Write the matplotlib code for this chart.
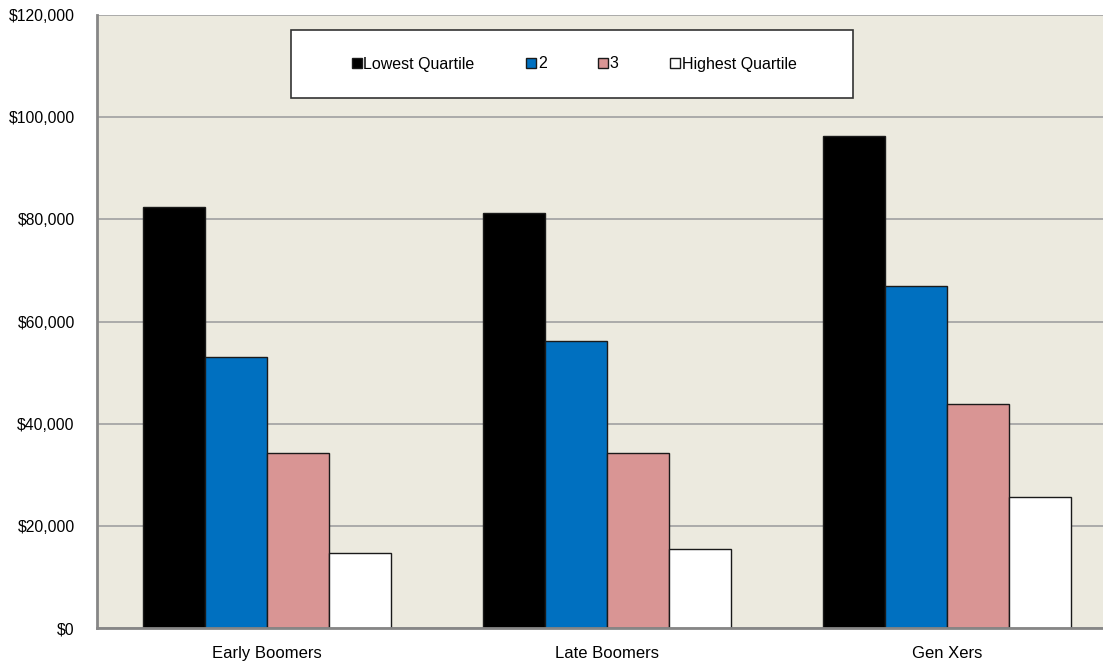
import matplotlib.pyplot as plt
import numpy as np
from matplotlib.patches import Rectangle
from matplotlib.ticker import FuncFormatter

categories = ["Early Boomers", "Late Boomers", "Gen Xers"]
series_names = ["Lowest Quartile", "2", "3", "Highest Quartile"]
lowest = [82400, 81300, 96400]
second = [53000, 56100, 67000]
third = [34300, 34300, 43800]
highest = [14700, 15400, 25700]

colors = ["#000000", "#0070C0", "#D99594", "#FFFFFF"]


def money(v, pos):
    return "${:,.0f}".format(v)


def main():
    plt.rcParams["font.family"] = ["Liberation Sans", "DejaVu Sans"]
    fig = plt.figure(figsize=(11.03, 6.62), dpi=100)
    ax = fig.add_axes([97 / 1103, 34 / 662, 1006 / 1103, 613 / 662])
    ax.set_facecolor("#ECEADF")

    x = np.arange(len(categories))
    width = 62 / 340
    values = [lowest, second, third, highest]
    for i, (name, vals) in enumerate(zip(series_names, values)):
        offset = (i - 1.5) * width
        ax.bar(x + offset, vals, width, color=colors[i], label=name,
               edgecolor="#1a1a1a", linewidth=1.0, zorder=3)

    ax.set_ylim(0, 120000)
    ax.set_xlim(-0.5, 2 + (1103 - 947) / 340)
    ax.set_yticks(np.arange(0, 120001, 20000))
    ax.yaxis.set_major_formatter(FuncFormatter(money))
    ax.set_xticks(x)
    ax.set_xticklabels(categories)
    ax.tick_params(axis="both", length=0, colors="black")
    ax.tick_params(axis="y", pad=16, labelsize=11.3)
    ax.tick_params(axis="x", pad=13, labelsize=12)
    ax.yaxis.grid(True, color="#A6A6A6", linewidth=1.3, zorder=0)
    ax.set_axisbelow(True)

    for side in ["top", "right"]:
        ax.spines[side].set_visible(False)
    for side in ["left", "bottom"]:
        ax.spines[side].set_color("#868686")
        ax.spines[side].set_linewidth(2)
        ax.spines[side].set_zorder(4)

    # legend box
    box = Rectangle((291 / 1103, 1 - 98 / 662), (853 - 291) / 1103, 68 / 662,
                    transform=fig.transFigure, facecolor="white",
                    edgecolor="#333333", linewidth=1.2, zorder=5)
    fig.patches.append(box)
    leg = fig.legend(loc="center", bbox_to_anchor=(574 / 1103, 1 - 64 / 662),
                     ncol=4, frameon=False, fontsize=11.5,
                     handlelength=0.65, handleheight=0.65, handletextpad=0.1,
                     columnspacing=3.2)
    leg.set_zorder(6)

    fig.savefig("out.png", dpi=100)


if __name__ == "__main__":
    main()
